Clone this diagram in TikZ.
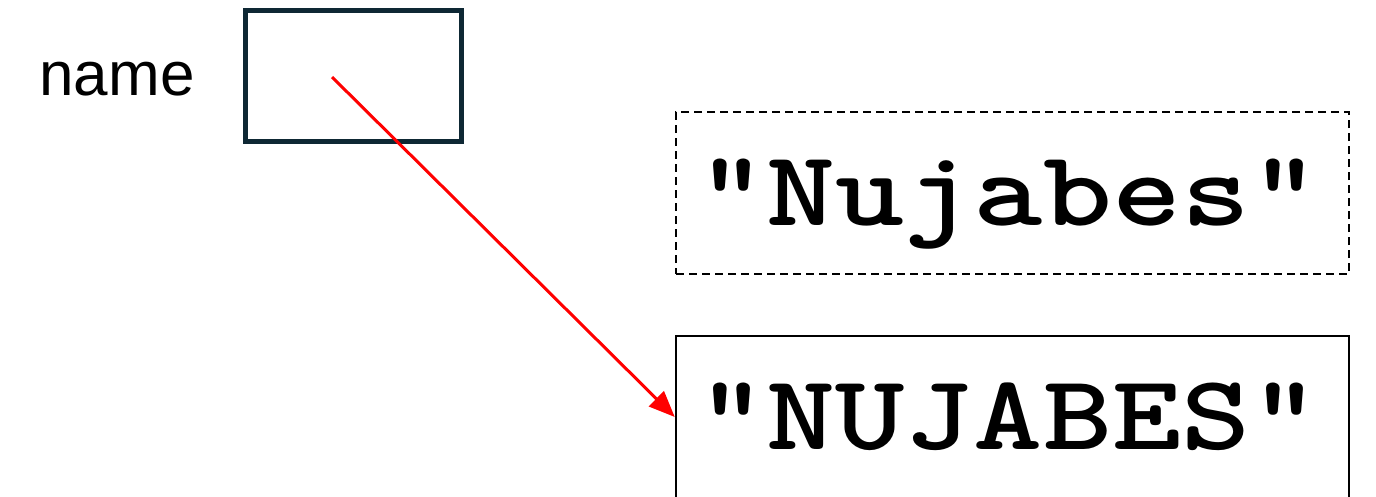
\documentclass[tikz,border=0pt]{standalone}
\usepackage{fontspec}
\usepackage{graphicx}
\setmainfont{Liberation Sans}
\usetikzlibrary{arrows.meta}
\definecolor{boxnavy}{RGB}{14,40,52}
\definecolor{arrowred}{RGB}{255,0,0}
\newcommand{\codetext}[1]{\scalebox{1.23}[1]{#1}\kern8pt}
\tikzset{
  varbox/.style={draw=boxnavy, line width=5pt, minimum width=215.5pt, minimum height=130.5pt, inner sep=0pt},
  strbox/.style={draw=black, line width=2.5pt, minimum width=673pt, minimum height=162pt, inner sep=0pt,
    font=\ttfamily\bfseries\fontsize{107}{120}\selectfont\addfontfeature{FakeBold=2.6}, text height=64pt, text depth=0pt},
  dashbox/.style={strbox, dash pattern=on 8pt off 5pt},
  label/.style={font=\fontsize{62}{70}\selectfont, inner sep=0pt, anchor=base},
  pointer/.style={draw=arrowred, line width=3pt, -{Triangle[length=26pt,width=21pt]}}
}
\begin{document}
\begin{tikzpicture}[x=1pt,y=-1pt]
\useasboundingbox (0,0) rectangle (1376,496);
\node[label] (lbl) at (117,95) {name};
\node[varbox] (namebox) at (353.25,75.75) {};
\node[dashbox] (nujlow) at (1012.5,193) {\codetext{"Nujabes"}};
\node[strbox] (nujup) at (1012.5,417) {\codetext{"NUJABES"}};
\coordinate (ptr) at (332,77);
\draw[pointer] (ptr) -- (nujup.west);
\end{tikzpicture}
\end{document}
